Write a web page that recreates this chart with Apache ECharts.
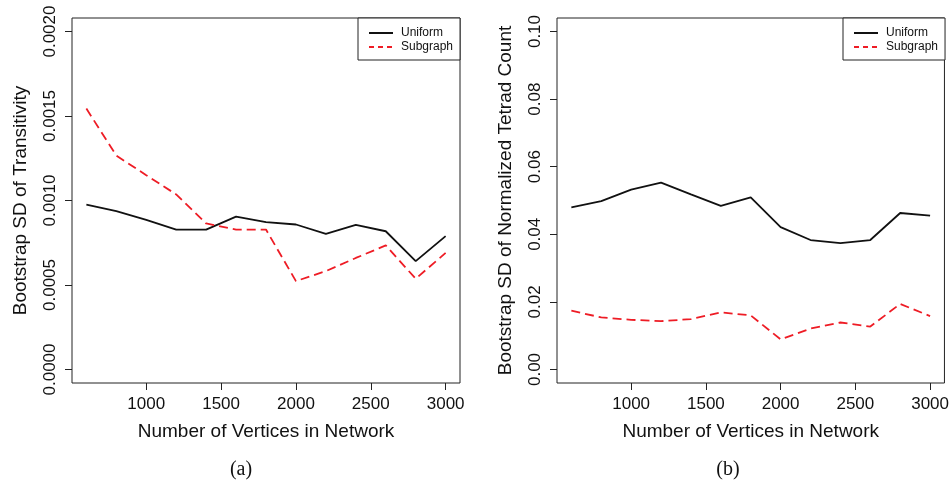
<!DOCTYPE html>
<html>
<head>
<meta charset="utf-8">
<script src="https://cdn.jsdelivr.net/npm/echarts@6/dist/echarts.min.js"></script>
<style>
html,body{margin:0;padding:0;background:#fff;}
#c{width:952px;height:486px;}
</style>
</head>
<body>
<div id="c"></div>
<script>
// ---- data ----
var vertices = [600, 800, 1000, 1200, 1400, 1600, 1800, 2000, 2200, 2400, 2600, 2800, 3000];
var uniformA = [0.000976, 0.000937, 0.000885, 0.000828, 0.000828, 0.000905, 0.000872, 0.000858, 0.000803, 0.000856, 0.000818, 0.000641, 0.000789];
var subgraphA = [0.001544, 0.001266, 0.00115, 0.001036, 0.000864, 0.000828, 0.000828, 0.000523, 0.000582, 0.00066, 0.000734, 0.000537, 0.00069];
var uniformB = [0.0480, 0.0498, 0.0532, 0.0553, 0.0518, 0.0484, 0.0509, 0.0421, 0.0383, 0.0374, 0.0383, 0.0463, 0.0455];
var subgraphB = [0.0174, 0.0154, 0.0147, 0.0143, 0.0149, 0.0169, 0.0160, 0.0089, 0.0121, 0.0139, 0.0127, 0.0194, 0.0158];
var xTicks = [1000, 1500, 2000, 2500, 3000];
var yTicksA = [0, 0.0005, 0.0010, 0.0015, 0.0020];
var yTicksB = [0, 0.02, 0.04, 0.06, 0.08, 0.10];
var seriesNames = ['Uniform', 'Subgraph'];
var xTitle = 'Number of Vertices in Network';
var yTitleA = 'Bootstrap SD of Transitivity';
var yTitleB = 'Bootstrap SD of Normalized Tetrad Count';
var captions = ['(a)', '(b)'];

function pairs(xs, ys) { return xs.map(function (x, i) { return [x, ys[i]]; }); }

var FONT = 'Liberation Sans, Arial, sans-serif';
var RED = '#ee1c25';

function xAxisCfg(gi) {
  return {
    type: 'value', gridIndex: gi, min: 504, max: 3096,
    name: xTitle, nameLocation: 'middle', nameGap: 39,
    nameTextStyle: { fontFamily: FONT, fontSize: 19, color: '#111' },
    axisLine: { show: false, onZero: false },
    splitLine: { show: false },
    axisTick: { show: true, length: 7, customValues: xTicks, lineStyle: { color: '#222', width: 1 } },
    axisLabel: { customValues: xTicks, fontFamily: FONT, fontSize: 17, color: '#111', margin: 13,
      formatter: function (v) { return String(v); } }
  };
}
function yAxisCfg(gi, min, max, ticks, dec, title) {
  return {
    type: 'value', gridIndex: gi, min: min, max: max,
    name: title, nameLocation: 'middle', nameRotate: 90, nameGap: 42,
    nameTextStyle: { fontFamily: FONT, fontSize: 19, color: '#111' },
    axisLine: { show: false, onZero: false },
    splitLine: { show: false },
    axisTick: { show: true, length: 7, customValues: ticks, lineStyle: { color: '#222', width: 1 } },
    axisLabel: { customValues: ticks, rotate: 90, fontFamily: FONT, fontSize: 17, color: '#111', margin: 13,
      formatter: function (v) { return Number(v).toFixed(dec); } }
  };
}
function legendCfg(left) {
  return {
    left: left, top: 18, orient: 'vertical', align: 'left',
    data: [
      { name: seriesNames[0] },
      { name: seriesNames[1], lineStyle: { type: [5, 4] } }
    ],
    itemWidth: 24, itemHeight: 14, itemGap: 2,
    padding: [9, 7, 7, 10],
    itemStyle: { opacity: 0, color: 'rgba(0,0,0,0)', borderWidth: 0 },
    backgroundColor: '#fff', borderColor: '#222', borderWidth: 1, borderRadius: 0,
    textStyle: { fontFamily: FONT, fontSize: 12, color: '#111', padding: [0, 0, 0, 3] },
    selectedMode: false
  };
}
function lineSeries(name, gi, data, color, dashed) {
  return {
    type: 'line', name: name, xAxisIndex: gi, yAxisIndex: gi,
    data: data, symbol: 'none', silent: true, animation: false,
    lineStyle: { color: color, width: 1.8, type: dashed ? [9, 5] : 'solid' },
    itemStyle: { color: color }
  };
}

var chart = echarts.init(document.getElementById('c'), null, { renderer: 'canvas' });
chart.setOption({
  backgroundColor: '#fff',
  animation: false,
  grid: [
    { left: 72, top: 18, width: 388, height: 365, show: true, borderColor: '#222', borderWidth: 1, backgroundColor: 'transparent' },
    { left: 557, top: 18, width: 388, height: 365, show: true, borderColor: '#222', borderWidth: 1, backgroundColor: 'transparent' }
  ],
  xAxis: [xAxisCfg(0), xAxisCfg(1)],
  yAxis: [
    yAxisCfg(0, -0.00008, 0.00208, yTicksA, 4, yTitleA),
    yAxisCfg(1, -0.004, 0.104, yTicksB, 2, yTitleB)
  ],
  legend: [legendCfg(358), legendCfg(843)],
  title: [
    { text: captions[0], left: 236, top: 455, textAlign: 'center', textStyle: { fontFamily: 'Liberation Serif, serif', fontSize: 20, fontWeight: 'normal', color: '#111' } },
    { text: captions[1], left: 723, top: 455, textAlign: 'center', textStyle: { fontFamily: 'Liberation Serif, serif', fontSize: 20, fontWeight: 'normal', color: '#111' } }
  ],
  series: [
    lineSeries(seriesNames[0], 0, pairs(vertices, uniformA), '#111', false),
    lineSeries(seriesNames[1], 0, pairs(vertices, subgraphA), RED, true),
    lineSeries(seriesNames[0], 1, pairs(vertices, uniformB), '#111', false),
    lineSeries(seriesNames[1], 1, pairs(vertices, subgraphB), RED, true)
  ]
});
</script>
</body>
</html>
